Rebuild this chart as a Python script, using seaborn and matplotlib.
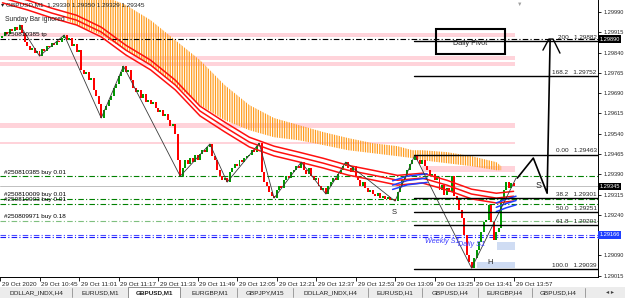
import numpy as np
import pandas as pd
import seaborn as sns
import matplotlib.pyplot as plt
import matplotlib.transforms as mtransforms
from matplotlib.patches import Rectangle

sns.set_theme(style="white")
plt.rcParams["font.family"] = ["Liberation Sans", "DejaVu Sans"]
plt.rcParams["hatch.linewidth"] = 0.9

P = 1e-5  # one point, prices below are kept in points (1.29345 -> 129345)

# GBPUSD M1 closes, bar 0 = 29 Oct 10:30, last bar = 13:57
first_open = 129895
closes = [
    129901, 129916, 129909, 129927, 129920, 129934, 129923, 129942, 129912, 129879,
    129864, 129849, 129857, 129838, 129846, 129827, 129853, 129846, 129864, 129860,
    129875, 129868, 129883, 129879, 129894, 129905, 129886, 129894, 129864, 129872,
    129842, 129849, 129775, 129761, 129768, 129738, 129746, 129701, 129679, 129650,
    129598, 129627, 129642, 129664, 129679, 129709, 129724, 129753, 129768, 129790,
    129768, 129775, 129738, 129709, 129694, 129701, 129672, 129687, 129657, 129664,
    129650, 129657, 129635, 129620, 129627, 129605, 129613, 129590, 129568, 129576,
    129539, 129442, 129383, 129413, 129442, 129428, 129450, 129435, 129461, 129442,
    129465, 129479, 129472, 129490, 129502, 129457, 129442, 129405, 129383, 129368,
    129376, 129361, 129398, 129413, 129428, 129420, 129442, 129435, 129450, 129457,
    129461, 129479, 129472, 129494, 129505, 129398, 129361, 129346, 129324, 129309,
    129302, 129331, 129346, 129339, 129368, 129383, 129376, 129398, 129405, 129420,
    129413, 129435, 129405, 129391, 129413, 129383, 129368, 129376, 129346, 129331,
    129339, 129317, 129346, 129361, 129376, 129368, 129391, 129405, 129420, 129435,
    129413, 129398, 129420, 129383, 129368, 129346, 129361, 129339, 129324, 129331,
    129317, 129309, 129320, 129302, 129309, 129298, 129305, 129294, 129298, 129291,
    129324, 129346, 129368, 129383, 129405, 129428, 129442, 129461, 129442, 129428,
    129442, 129420, 129405, 129383, 129391, 129368, 129379, 129331, 129350, 129313,
    129339, 129324, 129383, 129309, 129294, 129257, 129228, 129165, 129091, 129065,
    129043, 129080, 129109, 129139, 129176, 129213, 129220, 129276, 129213, 129146,
    129176, 129191, 129294, 129331, 129361, 129339, 129357, 129345,
]

# moving-average ribbon (red), sampled every 10 bars
ma_idx = [0, 10, 20, 30, 40, 50, 60, 70, 80, 90, 100, 110, 120, 130, 140, 150, 160, 170, 180, 190, 200, 207]
ma_upper = [130060, 130034, 130004, 129978, 129934, 129867, 129812, 129738, 129642, 129583, 129527,
            129494, 129472, 129449, 129423, 129405, 129386, 129394, 129368, 129335, 129320, 129327]
ma_mid = [130042, 130016, 129986, 129960, 129916, 129849, 129794, 129720, 129624, 129565, 129509,
          129476, 129454, 129431, 129405, 129387, 129368, 129376, 129350, 129317, 129302, 129309]
ma_lower = [130024, 129998, 129968, 129942, 129898, 129831, 129776, 129702, 129606, 129547, 129491,
            129458, 129436, 129413, 129387, 129369, 129350, 129358, 129332, 129299, 129284, 129291]

# blue ribbon where it turns up
blue_idx_a = [158, 164, 172]
blue_mid_a = [129350, 129367, 129376]
blue_idx_b = [200, 204, 208]
blue_mid_b = [129268, 129282, 129293]
blue_gap = 16

# orange band
orange_idx = [26, 30, 40, 50, 60, 70, 80, 90, 100, 110, 120, 130, 140, 150, 160, 166, 170, 180, 190, 200, 202]
orange_top = [130053, 130053, 130053, 130016, 129960, 129886, 129812, 129720, 129646, 129598, 129572,
              129546, 129524, 129505, 129494, 129479, 129479, 129472, 129457, 129435, 129420]
orange_bot = [129960, 129942, 129905, 129849, 129794, 129720, 129646, 129590, 129553, 129527, 129516,
              129498, 129479, 129468, 129457, 129450, 129442, 129431, 129420, 129405, 129405]

# zigzag pivots
zz_idx = [7, 15, 25, 40, 49, 72, 84, 91, 104, 110, 121, 131, 139, 159, 167, 190, 208]
zz_price = [129942, 129827, 129905, 129598, 129790, 129383, 129502, 129361, 129505, 129302, 129435,
            129317, 129435, 129291, 129461, 129043, 129376]

# fibonacci levels
fib_levels = ["200", "168.2", "0.00", "38.2", "50.0", "61.8", "100.0"]
fib_prices = [129882, 129752, 129463, 129301, 129251, 129201, 129039]
fib_start = 166.5

# order lines
order_labels = ["#250810385 tp", "#250810385 buy 0.01", "#250810009 buy 0.01",
                "#250810003 buy 0.01", "#250809971 buy 0.18"]
order_prices = [129890, 129383, 129299, 129281, 129217]
order_colors = ["black", "#008000", "#008000", "#008000", "#7fbf7f"]

# pivots S1
s1_labels = ["Weekly S1", "Daily S1"]
s1_prices = [129166, 129159]
s1_text_idx = [171, 184.5]
s1_text_price = [129143, 129131]

# zones
pink_lo = [129898, 129812, 129790, 129561, 129502, 129398]
pink_hi = [129912, 129827, 129805, 129580, 129509, 129420]
pink_start = [-1, -1, -1, -1, -1, 170]
blue_lo = [129043, 129109]
blue_hi = [129065, 129139]
blue_start = [192.3, 200.4]
zone_end = 207.6

# hand drawn projection
sketch_idx = [208.5, 215, 220.6, 221.8]
sketch_price = [129376, 129450, 129320, 129886]
arrow_idx = [218.9, 221.3, 223.0, 225.8]
arrow_price = [129849, 129890, 129890, 129838]
marks = ["S", "S", "H"]
mark_idx = [158.5, 217, 197.6]
mark_price = [129250, 129350, 129065]

current_price = 129345
tick_bars = [-1, 15, 31, 47, 63, 79, 95, 111, 127, 143, 159, 175, 191, 207]
tick_labels = ["29 Oct 2020", "29 Oct 10:45", "29 Oct 11:01", "29 Oct 11:17", "29 Oct 11:33",
               "29 Oct 11:49", "29 Oct 12:05", "29 Oct 12:21", "29 Oct 12:37", "29 Oct 12:53",
               "29 Oct 13:09", "29 Oct 13:25", "29 Oct 13:41", "29 Oct 13:57"]
price_ticks = [1.29015, 1.29090, 1.29165, 1.29240, 1.29315, 1.29390, 1.29465,
               1.29540, 1.29615, 1.29690, 1.29765, 1.29840, 1.29915, 1.29990]
tabs = ["DOLLAR_INDX,H4", "EURUSD,M1", "GBPUSD,M1", "EURGBP,M1", "GBPJPY,M15",
        "DOLLAR_INDX,H4", "EURUSD,H1", "GBPUSD,H4", "EURGBP,H4", "GBPUSD,H4"]
tab_edges = [0, 72, 128, 182, 237, 293, 368, 422, 478, 532, 585]

# ------------------------------------------------------------------
W, H = 625, 298
fig = plt.figure(figsize=(W / 100, H / 100), dpi=100)
ax = fig.add_axes([0, 1 - 277 / H, 598 / W, 277 / H])
ax.set_facecolor("white")
ax.set_xlim(0.08, 241.2)
ax.set_ylim(1.290103, 1.300344)
fs = 4.6
fy = 4.1  # price scale font

bars = pd.DataFrame({"bar": np.arange(len(closes)), "close": np.array(closes) * P})
bars["open"] = [first_open * P] + list(bars["close"].iloc[:-1])

# zones
for lo, hi, st in zip(pink_lo, pink_hi, pink_start):
    ax.add_patch(Rectangle((st, lo * P), zone_end - st, (hi - lo) * P,
                           facecolor="#ffd3da", edgecolor="none", zorder=0.5))
for lo, hi, st in zip(blue_lo, blue_hi, blue_start):
    ax.add_patch(Rectangle((st, lo * P), zone_end - st, (hi - lo) * P,
                           facecolor="#cfdcf3", edgecolor="none", zorder=0.5))

# orange band as vertical stripes
ax.fill_between(orange_idx, np.array(orange_top) * P, np.array(orange_bot) * P,
                facecolor="none", edgecolor="#ff9d1f", hatch="|||||||", linewidth=0, zorder=1)

# current price line
ax.axhline(current_price * P, color="#c0c0c0", lw=0.7, zorder=1.5)

# order lines
for lbl, pr, col in zip(order_labels, order_prices, order_colors):
    ax.axhline(pr * P, color=col, lw=0.8, dashes=(5, 2, 1, 2), zorder=2)
    ax.text(0.6, pr * P + 6 * P, lbl, fontsize=fs, color="black", va="bottom", ha="left", zorder=7)

# S1 lines
for pr, col in zip(s1_prices, ["#4a4aff", "#1a1aff"]):
    ax.axhline(pr * P, color=col, lw=0.8, dashes=(5, 2, 1, 2), zorder=2)
for lbl, xi, yp in zip(s1_labels, s1_text_idx, s1_text_price):
    ax.text(xi, yp * P, lbl, fontsize=5.2, color="#3c3cff", style="italic", va="center", ha="left", zorder=7)

# candles
bull = bars["close"] >= bars["open"]
body_lo = bars[["open", "close"]].min(axis=1)
body_h = (bars["close"] - bars["open"]).abs().clip(lower=4 * P)
ax.bar(bars["bar"], body_h, bottom=body_lo, width=0.8,
       color=np.where(bull, "#009a00", "#ff0000"), linewidth=0, zorder=3)

# red ribbon
ma = pd.DataFrame({"bar": ma_idx, "upper": np.array(ma_upper) * P,
                   "mid": np.array(ma_mid) * P, "lower": np.array(ma_lower) * P})
for col in ["upper", "mid", "lower"]:
    sns.lineplot(data=ma, x="bar", y=col, ax=ax, color="#ff1010", lw=1.1, zorder=4)

# blue ribbon segments
for bi, bm in [(blue_idx_a, blue_mid_a), (blue_idx_b, blue_mid_b)]:
    for k in (-1, 0, 1):
        ax.plot(bi, (np.array(bm) + k * blue_gap) * P, color="#1f3fff", lw=1.1, zorder=4.2)

# zigzag
zz = pd.DataFrame({"bar": zz_idx, "price": np.array(zz_price) * P})
sns.lineplot(data=zz, x="bar", y="price", ax=ax, sort=False, color="#3a3a3a", lw=0.6, zorder=5)

# fibonacci
for lvl, pr in zip(fib_levels, fib_prices):
    ax.plot([fib_start, 241.2], [pr * P, pr * P], color="black", lw=1.0, zorder=5)
    ax.text(240.6, pr * P + 5 * P, f"{lvl}   {pr * P:.5f}", fontsize=fs, ha="right", va="bottom", zorder=7)

# hand drawing
ax.plot(sketch_idx, np.array(sketch_price) * P, color="black", lw=1.2, zorder=6, solid_capstyle="round")
ax.plot(arrow_idx, np.array(arrow_price) * P, color="black", lw=1.0, zorder=6)
for m, xi, yp in zip(marks, mark_idx, mark_price):
    ax.text(xi, yp * P, m, fontsize=6.5 if xi > 200 else 5.5, ha="center", va="center", zorder=7)

# daily pivot box
ax.add_patch(Rectangle((175.4, 129835 * P), 28.2, 92 * P, facecolor="none",
                       edgecolor="black", lw=1.5, zorder=6))
ax.text(189.5, 129875 * P, "Daily Pivot", fontsize=5.2, ha="center", va="center", zorder=7)

ax.text(1, 129962 * P, "Sunday Bar ignored", fontsize=fs + 0.3, ha="left", va="center", zorder=7)

# axes styling
for s in ["left", "top"]:
    ax.spines[s].set_visible(False)
for s in ["right", "bottom"]:
    ax.spines[s].set_color("black")
    ax.spines[s].set_linewidth(0.7)
ax.set_xlabel("")
ax.set_ylabel("")
ax.grid(False)
ax.set_xticks(tick_bars)
ax.set_xticklabels([])
ax.tick_params(axis="x", bottom=True, length=3, width=0.6, color="black")
tb = mtransforms.blended_transform_factory(ax.transData, ax.transAxes)
for tbar, lbl in zip(tick_bars, tick_labels):
    ax.text(tbar + 0.8, -0.026, lbl, transform=tb, fontsize=fs, ha="left", va="center", clip_on=False)

# price scale; the 1.29165 label sits under the blue S1 marker, as in the terminal
highlights = [(129890, "black"), (current_price, "black"), (129166, "#1f3fff")]
ax.yaxis.tick_right()
ax.set_yticks(price_ticks)
ax.set_yticklabels(["" if abs(v - 1.29165) < 1e-7 else f"{v:.5f}" for v in price_ticks])
ax.tick_params(axis="y", right=True, left=False, length=2.5, width=0.6, color="black",
               labelsize=fy, pad=1.5)
ax.set_ylim(1.290103, 1.300344)

tr = mtransforms.blended_transform_factory(ax.transAxes, ax.transData)
for pr, fc in highlights:
    ax.text(1.002, pr * P, f"{pr * P:.5f}", transform=tr, fontsize=fy, color="white", ha="left",
            va="center", clip_on=False, zorder=10,
            bbox=dict(boxstyle="square,pad=0.25", fc=fc, ec="none"))

# header
fig.text(1 / W, 1 - 5 / H, "\u25BE GBPUSD,M1  1.29330 1.29350 1.29329 1.29345",
         fontsize=fs, ha="left", va="center", color="#202020")
fig.text(520 / W, 1 - 4 / H, "\u25BC", fontsize=4, color="#a0a0a0", ha="center", va="center")

# tab bar
fig.patches.append(Rectangle((0, 0), 1, 11 / H, transform=fig.transFigure,
                             facecolor="#ececec", edgecolor="none", zorder=0))
for k, name in enumerate(tabs):
    x0, x1 = tab_edges[k], tab_edges[k + 1]
    if k == 2:
        fig.patches.append(Rectangle((x0 / W, 0), (x1 - x0 - 2) / W, 11 / H, transform=fig.transFigure,
                                     facecolor="white", edgecolor="#808080", lw=0.6, zorder=1))
        weight = "bold"
    else:
        weight = "normal"
        fig.lines.append(plt.Line2D([x1 / W, x1 / W], [1 / H, 10 / H], transform=fig.transFigure,
                                    color="#909090", lw=0.6))
    fig.text((x0 + x1) / 2 / W, 5.5 / H, name, fontsize=fs, ha="center", va="center",
             weight=weight, color="#202020")
fig.text(610 / W, 5.5 / H, "\u25C2 \u25B8", fontsize=4.5, ha="center", va="center", color="#404040")

fig.savefig("out.png", dpi=100)
